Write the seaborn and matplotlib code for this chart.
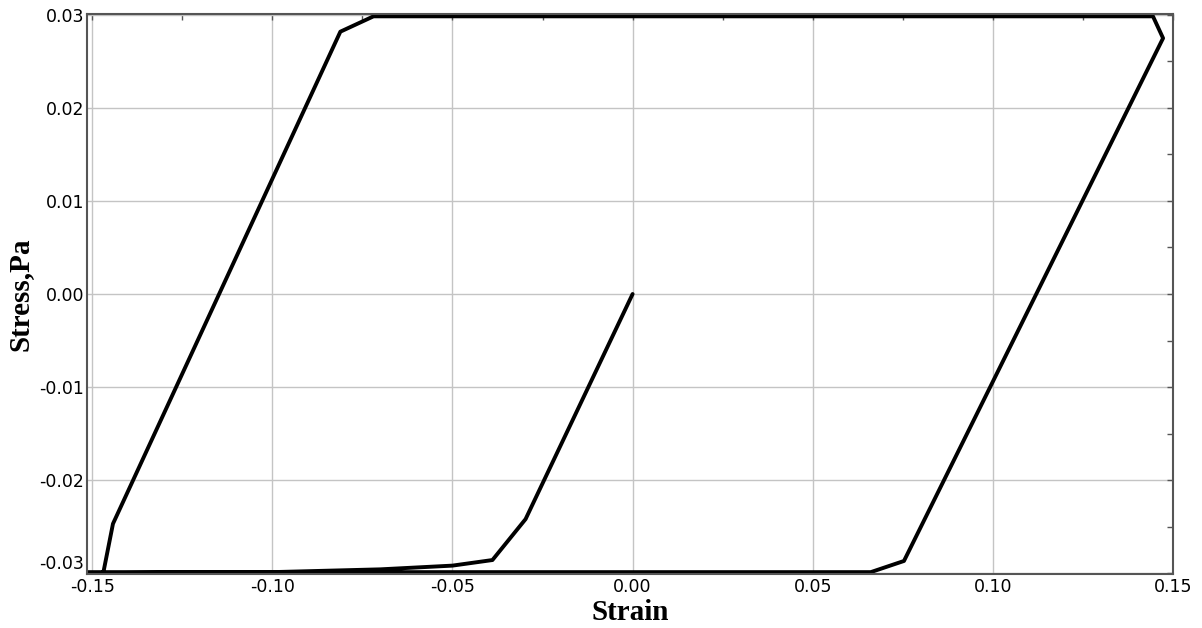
import matplotlib
matplotlib.use("Agg")
import matplotlib.pyplot as plt
from matplotlib.ticker import MultipleLocator, FormatStrFormatter
import seaborn as sns
import pandas as pd

# Hysteresis path (strain, stress)
strain = [0.0, -0.0297, -0.0389, -0.050, -0.070, -0.100, -0.1469, -0.1442,
          -0.0811, -0.0719, 0.1444, 0.1472, 0.0753, 0.0661, -0.1514]
stress = [0.0, -0.0242, -0.0286, -0.0292, -0.0296, -0.0299, -0.0300, -0.0247,
          0.0282, 0.02985, 0.02985, 0.0275, -0.0287, -0.0299, -0.0299]

x_ticks = [-0.15, -0.10, -0.05, 0.00, 0.05, 0.10, 0.15]
y_ticks = [-0.03, -0.02, -0.01, 0.00, 0.01, 0.02, 0.03]

df = pd.DataFrame({"Strain": strain, "Stress": stress})

sns.set_theme(style="white")
plt.rcParams["font.family"] = ["DejaVu Sans"]

fig = plt.figure(figsize=(12.02, 6.28), dpi=100)
ax = fig.add_axes([0.0724, 0.086, 0.976 - 0.0724, 0.9777 - 0.086])

sns.lineplot(data=df, x="Strain", y="Stress", sort=False, estimator=None,
             color="black", linewidth=2.8, ax=ax)

ax.set_xlim(-0.1514, 0.15)
ax.set_ylim(-0.0301, 0.0301)
ax.set_xticks(x_ticks)
ax.set_yticks(y_ticks)
ax.xaxis.set_major_formatter(FormatStrFormatter("%.2f"))
ax.yaxis.set_major_formatter(FormatStrFormatter("%.2f"))
ax.xaxis.set_minor_locator(MultipleLocator(0.025))
ax.yaxis.set_minor_locator(MultipleLocator(0.005))

ax.grid(True, which="major", color="#c4c4c4", linewidth=1.0)
ax.set_axisbelow(True)
ax.tick_params(which="both", direction="in", top=True, right=True,
               colors="#555555", labelcolor="black", labelsize=12.5)
ax.tick_params(axis="x", pad=3)
ax.tick_params(axis="y", pad=2)
ax.tick_params(which="major", length=4, width=1)
ax.tick_params(which="minor", length=4, width=1)
for s in ax.spines.values():
    s.set_color("#555555")
    s.set_linewidth(1.5)

# lift the lowest y tick label so it clears the x tick labels
fig.canvas.draw()
ylabels = ax.get_yticklabels()
ylabels[0].set_verticalalignment("bottom")

label_font = dict(family=["Liberation Serif", "DejaVu Serif"], fontweight="bold",
                  fontsize=21, color="black")
ax.set_xlabel("Strain", labelpad=2, **label_font)
ax.set_ylabel("Stress,Pa", labelpad=4, **label_font)

fig.savefig("out.png", dpi=100, facecolor="white")
